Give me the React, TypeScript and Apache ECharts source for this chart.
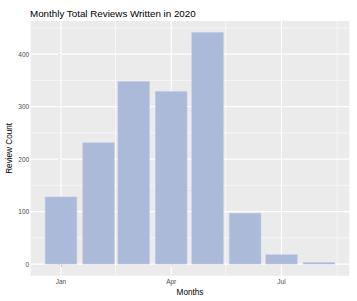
import React, { useEffect, useRef } from "react";
import * as echarts from "echarts";

// ---- data ----
const MONTHS = ["2020-01-01", "2020-02-01", "2020-03-01", "2020-04-01", "2020-05-01", "2020-06-01", "2020-07-01", "2020-08-01"];
const REVIEW_COUNTS = [128, 231, 348, 329, 441, 97, 18, 3];
const X_TICK_DATES = ["2020-01-01", "2020-04-01", "2020-07-01"];
const X_TICK_LABELS = ["Jan", "Apr", "Jul"];
const X_MINOR_DATES = ["2020-02-15", "2020-05-16", "2020-08-16"];
const Y_TICKS = [0, 100, 200, 300, 400];
const Y_MINOR = [50, 150, 250, 350, 450];

const TITLE = "Monthly Total Reviews Written in 2020";
const X_TITLE = "Months";
const Y_TITLE = "Review Count";

const ORIGIN = Date.UTC(2020, 0, 1);
const toDay = (s: string) => {
  const [y, m, d] = s.split("-").map(Number);
  return Math.round((Date.UTC(y, m - 1, d) - ORIGIN) / 86400000);
};

export default function App() {
  const ref = useRef<HTMLDivElement>(null);

  useEffect(() => {
    document.body.style.margin = "0";
    if (!ref.current) return;
    const chart = echarts.init(ref.current, null, { renderer: "svg" });

    const days = MONTHS.map(toDay);
    // bar width = 0.9 * smallest spacing between months
    let minGap = Infinity;
    for (let i = 1; i < days.length; i++) minGap = Math.min(minGap, days[i] - days[i - 1]);
    const half = (0.9 * minGap) / 2;
    const xlo = days[0] - half;
    const xhi = days[days.length - 1] + half;
    const xpad = 0.05 * (xhi - xlo);
    const ymaxData = Math.max(...REVIEW_COUNTS);
    const ypad = 0.05 * ymaxData;

    const xTickDays = X_TICK_DATES.map(toDay);
    const labelMap: Record<number, string> = {};
    xTickDays.forEach((d, i) => (labelMap[d] = X_TICK_LABELS[i]));

    const gridData: number[][] = [];
    Y_MINOR.forEach((v) => gridData.push([0, v, 0]));
    X_MINOR_DATES.forEach((d) => gridData.push([1, toDay(d), 0]));
    Y_TICKS.forEach((v) => gridData.push([0, v, 1]));
    xTickDays.forEach((d) => gridData.push([1, d, 1]));

    const font = "Liberation Sans, Arial, Helvetica, sans-serif";

    chart.setOption({
      animation: false,
      title: {
        text: TITLE,
        left: 30,
        top: 7,
        padding: 0,
        textStyle: { fontFamily: font, fontSize: 9.8, fontWeight: "normal", color: "#000", lineHeight: 12 },
      },
      grid: {
        left: 30.7,
        right: 7.7,
        top: 21,
        bottom: 25.3,
        show: true,
        backgroundColor: "#EBEBEB",
        borderWidth: 0,
        outerBoundsMode: "none",
        containLabel: false,
      },
      xAxis: {
        type: "value",
        min: xlo - xpad,
        max: xhi + xpad,
        name: X_TITLE,
        nameLocation: "middle",
        nameGap: 12.5,
        nameMoveOverlap: false,
        nameTextStyle: { fontFamily: font, fontSize: 8.2, color: "#000" },
        axisLine: { show: false },
        axisTick: { show: true, customValues: xTickDays, length: 2.7, lineStyle: { color: "#333", width: 0.6 } },
        axisLabel: {
          customValues: xTickDays,
          formatter: (v: number) => labelMap[Math.round(v)] ?? "",
          fontFamily: font,
          fontSize: 6.5,
          color: "#4D4D4D",
          margin: 2,
        },
        splitLine: { show: false },
      },
      yAxis: {
        type: "value",
        min: -ypad,
        max: ymaxData + ypad,
        name: Y_TITLE,
        nameLocation: "middle",
        nameGap: 17,
        nameMoveOverlap: false,
        nameTextStyle: { fontFamily: font, fontSize: 8.2, color: "#000" },
        axisLine: { show: false },
        axisTick: { show: true, customValues: Y_TICKS, length: 2.7, lineStyle: { color: "#333", width: 0.6 } },
        axisLabel: {
          customValues: Y_TICKS,
          fontFamily: font,
          fontSize: 6.5,
          color: "#4D4D4D",
          margin: 1.5,
        },
        splitLine: { show: false },
      },
      series: [
        {
          type: "custom",
          z: 1,
          silent: true,
          data: gridData,
          encode: { x: 1, y: 1 },
          renderItem: (params: any, api: any) => {
            const cs = params.coordSys;
            const kind = api.value(0);
            const v = api.value(1);
            const major = api.value(2) === 1;
            const style = { stroke: "#FFFFFF", lineWidth: major ? 1.1 : 0.55 };
            if (kind === 0) {
              const y = api.coord([0, v])[1];
              return { type: "line", shape: { x1: cs.x, y1: y, x2: cs.x + cs.width, y2: y }, style };
            }
            const x = api.coord([v, 0])[0];
            return { type: "line", shape: { x1: x, y1: cs.y, x2: x, y2: cs.y + cs.height }, style };
          },
        },
        {
          type: "custom",
          z: 2,
          data: days.map((d, i) => [d, REVIEW_COUNTS[i]]),
          encode: { x: 0, y: 1 },
          renderItem: (params: any, api: any) => {
            const d = api.value(0);
            const v = api.value(1);
            const p1 = api.coord([d - half, v]);
            const p2 = api.coord([d + half, 0]);
            return {
              type: "rect",
              shape: { x: p1[0], y: p1[1], width: p2[0] - p1[0], height: p2[1] - p1[1] },
              style: { fill: "#ABBAD8", stroke: "#BCC8E0", lineWidth: 0.5 },
            };
          },
        },
      ],
    });

    return () => chart.dispose();
  }, []);

  return <div ref={ref} style={{ width: 357, height: 301 }} />;
}
